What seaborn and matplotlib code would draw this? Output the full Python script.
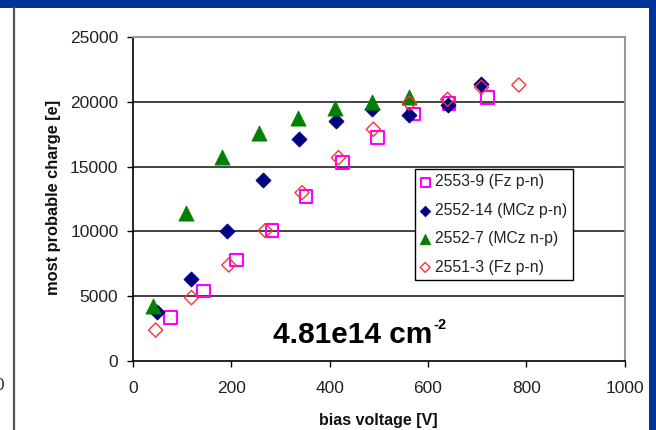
import matplotlib
matplotlib.use("Agg")
import matplotlib.pyplot as plt
import seaborn as sns
from matplotlib.patches import Rectangle
from matplotlib.lines import Line2D
from matplotlib.transforms import offset_copy

# ---- data ----
v_fz9 = [77, 143, 211, 283, 352, 427, 497, 570, 643, 721]
q_fz9 = [3370, 5400, 7790, 10060, 12680, 15300, 17230, 19060, 19880, 20320]

v_mcz14 = [48, 117, 192, 264, 338, 413, 487, 562, 640, 709]
q_mcz14 = [3800, 6300, 10060, 13970, 17100, 18520, 19420, 18980, 19750, 21370]

v_mcz7 = [41, 108, 182, 257, 335, 410, 487, 562]
q_mcz7 = [4280, 11440, 15760, 17620, 18730, 19500, 20010, 20390]

v_fz3 = [46, 119, 195, 269, 344, 418, 489, 562, 640, 709, 785]
q_fz3 = [2390, 4890, 7410, 10060, 12990, 15690, 17880, 19900, 20190, 21120, 21300]

labels = ["2553-9 (Fz p-n)", "2552-14 (MCz p-n)", "2552-7 (MCz n-p)", "2551-3 (Fz p-n)"]
x_ticks = [0, 200, 400, 600, 800, 1000]
y_ticks = [0, 5000, 10000, 15000, 20000, 25000]

sns.set_theme(style="white")
plt.rcParams["font.family"] = ["Liberation Sans", "DejaVu Sans"]

W, H = 656, 430
fig = plt.figure(figsize=(W / 100, H / 100), dpi=100)
fig.patch.set_facecolor("white")

# slide decorations
blue = "#003399"
fig.add_artist(Rectangle((0, 1 - 8 / H), 1, 8 / H, transform=fig.transFigure,
                         facecolor=blue, edgecolor="none", zorder=0))
fig.add_artist(Rectangle((649 / W, 0), 7 / W, 1, transform=fig.transFigure,
                         facecolor=blue, edgecolor="none", zorder=0))
fig.add_artist(Line2D([14 / W, 14 / W], [0, 1 - 8 / H], transform=fig.transFigure,
                      color="#555555", lw=1.6))
fig.text(4 / W, 1 - 385 / H, "0", ha="right", va="center", fontsize=12.5, color="#333333")

ax = fig.add_axes([133 / W, 69 / H, (624.5 - 133) / W, 324 / H])
ax.set_facecolor("white")

sns.scatterplot(x=v_fz9, y=q_fz9, ax=ax, marker="s", s=85, facecolor="none",
                edgecolor="#FF00FF", linewidth=1.5, label=labels[0], zorder=3)
sns.scatterplot(x=v_mcz14, y=q_mcz14, ax=ax, marker="D", s=60, color="#000080",
                edgecolor="#000080", linewidth=0.5, label=labels[1], zorder=4)
sns.scatterplot(x=v_mcz7, y=q_mcz7, ax=ax, marker="^", s=120, color="#008000",
                edgecolor="#008000", linewidth=0.5, label=labels[2], zorder=5)
sns.scatterplot(x=v_fz3, y=q_fz3, ax=ax, marker="D", s=52, facecolor="none",
                edgecolor="#FF3333", linewidth=1.0, label=labels[3], zorder=6)

ax.set_xlim(0, 1000)
ax.set_ylim(0, 25000)
ax.set_xticks(x_ticks)
ax.set_yticks(y_ticks)
ax.set_xticklabels([str(t) for t in x_ticks])
ax.set_yticklabels([str(t) for t in y_ticks])
ax.tick_params(axis="both", direction="out", length=4.5, width=1, color="black",
               labelsize=12.5, labelcolor="#222222")
ax.tick_params(axis="x", pad=10)
ax.tick_params(axis="y", pad=6)
ax.tick_params(bottom=True, left=True)

for yv in y_ticks[1:-1]:
    ax.axhline(yv, color="#222222", lw=1.2, zorder=1)

ax.spines["left"].set_color("black")
ax.spines["bottom"].set_color("black")
ax.spines["left"].set_linewidth(1.2)
ax.spines["bottom"].set_linewidth(1.2)
ax.spines["top"].set_color("#999999")
ax.spines["right"].set_color("#999999")
ax.spines["top"].set_linewidth(1.5)
ax.spines["right"].set_linewidth(1.5)

ax.set_xlabel("bias voltage [V]", fontsize=11.5, fontweight="bold", color="#111111")
ax.set_ylabel("most probable charge [e]", fontsize=11.8, fontweight="bold", color="#111111")
ax.xaxis.set_label_coords((378 - 133) / 491.5, -(413 - 361) / 324)
ax.yaxis.set_label_coords(-(133 - 61) / 491.5, (361 - 197) / 324)

main = ax.text(285, 1390, "4.81e14 cm", fontsize=21.5, fontweight="bold",
               ha="left", va="baseline", color="black")
fig.canvas.draw()
bb = main.get_window_extent(renderer=fig.canvas.get_renderer())
x_end = ax.transData.inverted().transform((bb.x1, bb.y0))[0]
sup_tr = offset_copy(ax.transData, fig=fig, x=0.5, y=10, units="points")
ax.text(x_end, 1390, "-2", fontsize=10.5, fontweight="bold", ha="left",
        va="baseline", color="black", transform=sup_tr)

leg = ax.legend(loc="upper left", bbox_to_anchor=((415 - 133) / 491.5, (361 - 169) / 324),
                borderaxespad=0, fontsize=11.3, frameon=True, fancybox=False,
                framealpha=1, edgecolor="black", markerscale=0.7,
                handlelength=0.6, handletextpad=0.35, labelspacing=0.85, borderpad=0.35)
leg.get_frame().set_linewidth(1.0)
for t in leg.get_texts():
    t.set_color("#222222")

fig.savefig("out.png", dpi=100, facecolor="white")
